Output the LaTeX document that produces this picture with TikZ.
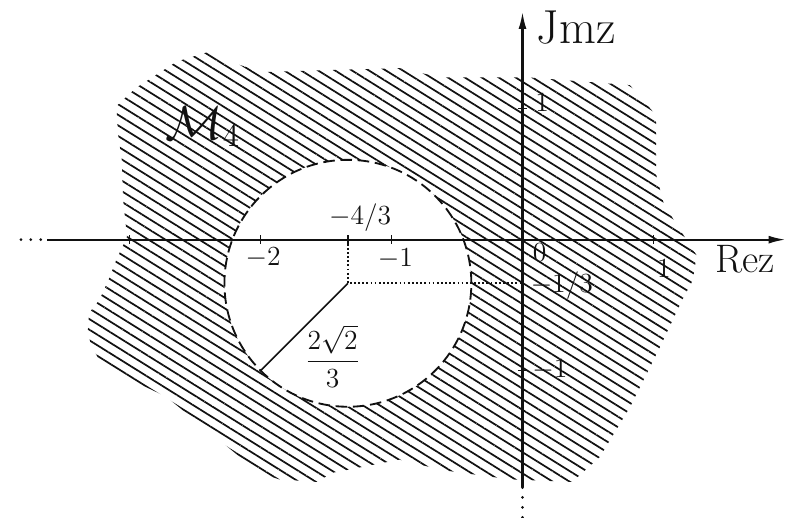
\documentclass[tikz,border=0pt]{standalone}
\usepackage{amsmath,amssymb}
\usepackage{xcolor}
\usepackage{tikz}
\usetikzlibrary{arrows.meta,patterns.meta}
\definecolor{Pencil}{HTML}{111111}

\begin{document}
\begin{tikzpicture}[x=2cm,y=2cm]
  \path[use as bounding box] (-3.99,-2.12) rectangle (2.02,1.83);
  \tikzset{
    mfHatch/.style={
      pattern={Lines[angle=-32,distance=3.9pt,line width=.75pt]},
      pattern color=Pencil
    },
    mfAxis/.style={
      -{Latex[length=2.6mm,width=1.2mm]}, draw=Pencil, line width=.9pt
    },
    mfAxisTail/.style={
      draw=Pencil, line width=1.3pt, line cap=round, dash pattern=on 0pt off 4.3pt
    },
    mfRim/.style={draw=Pencil, line width=.8pt, dash pattern=on 5pt off 2.5pt},
    mfGuide/.style={draw=Pencil, line width=.8pt, densely dotted},
    mfTick/.style={draw=Pencil, line width=.7pt},
    mfLabel/.style={font=\large, text=Pencil, inner sep=1pt}
  }

  \coordinate (O) at (0,0);
  \coordinate (xtail) at (-3.83,0);
  \coordinate (xstart) at (-3.63,0);
  \coordinate (xend) at (2.01,0);
  \coordinate (ytail) at (0,-2.12);
  \coordinate (ystart) at (0,-1.89);
  \coordinate (yend) at (0,1.74);
  \coordinate (c) at (-4/3,-1/3);
  \coordinate (cx) at (-4/3,0);
  \coordinate (cy) at (0,-1/3);
  \coordinate (rim) at (-2,-1);

  \fill[mfHatch, even odd rule]
    (-3.10,1.02) -- (-2.95,1.16) -- (-2.64,1.36) -- (-2.41,1.43) -- (-2.24,1.36)
    -- (-1.99,1.28) -- (-0.94,1.31) -- (-0.63,1.24) -- (0.03,1.24) -- (0.82,1.18)
    -- (1.02,0.95) -- (1.02,0.50) -- (1.08,0.27) -- (1.20,0.08) -- (1.33,-0.12)
    -- (1.30,-0.31) -- (1.22,-0.46) -- (1.05,-0.82) -- (0.82,-1.28) -- (0.59,-1.66)
    -- (0.38,-1.85) -- (-0.10,-1.83) -- (-0.61,-1.76) -- (-0.94,-1.68) -- (-1.45,-1.78)
    -- (-1.57,-1.85) -- (-1.86,-1.83) -- (-2.01,-1.78) -- (-2.39,-1.47) -- (-2.72,-1.20)
    -- (-2.95,-1.09) -- (-3.23,-0.92) -- (-3.29,-0.82) -- (-3.32,-0.71) -- (-3.31,-0.56)
    -- (-3.23,-0.46) -- (-3.15,-0.28) -- (-3.10,-0.15) -- (-3.02,0.02) -- (-3.05,0.31)
    -- (-3.06,0.61) -- (-3.09,0.82) -- cycle
    (c) circle[radius=0.9428];

  \draw[mfAxisTail] (xtail) -- (xstart);
  \draw[mfAxis] (xstart) -- (xend);
  \draw[mfAxisTail] (ytail) -- (ystart);
  \draw[mfAxis] (ystart) -- (yend);
  \foreach \t in {-3,-2,-4/3,-1,1}
    \draw[mfTick] (\t,0.035) -- (\t,-0.035);
  \foreach \t in {-1,1}
    \draw[mfTick] (-0.035,\t) -- (0.035,\t);

  \draw[mfRim] (c) circle[radius=0.9428];
  \draw[mfGuide] (cx) -- (c) -- (cy);
  \draw[mfTick] (c) -- (rim);

  \node[mfLabel] (lblcx) at (-1.24,0.17) {$-4/3$};
  \node[mfLabel] (lblxmtwo) at (-1.98,-0.14) {$-2$};
  \node[mfLabel] (lblxmone) at (-0.97,-0.145) {$-1$};
  \node[mfLabel] (lblzero) at (0.13,-0.10) {$0$};
  \node[mfLabel] (lblcy) at (0.30,-0.35) {$-1/3$};
  \node[mfLabel] (lblyone) at (0.15,1.05) {$1$};
  \node[mfLabel] (lblymone) at (0.21,-0.99) {$-1$};
  \node[mfLabel] (lblxone) at (1.08,-0.22) {$1$};
  \node[mfLabel] (lblradius) at (-1.45,-0.89) {$\dfrac{2\sqrt{2}}{3}$};
  \node[mfLabel, font=\LARGE] (lblre) at (1.70,-0.15) {Rez};
  \node[mfLabel, font=\huge] (lblim) at (0.41,1.62) {Jmz};
  \node[mfLabel, font=\huge] (lblset) at (-2.44,0.86) {$\mathcal{M}_4$};
\end{tikzpicture}
\end{document}
